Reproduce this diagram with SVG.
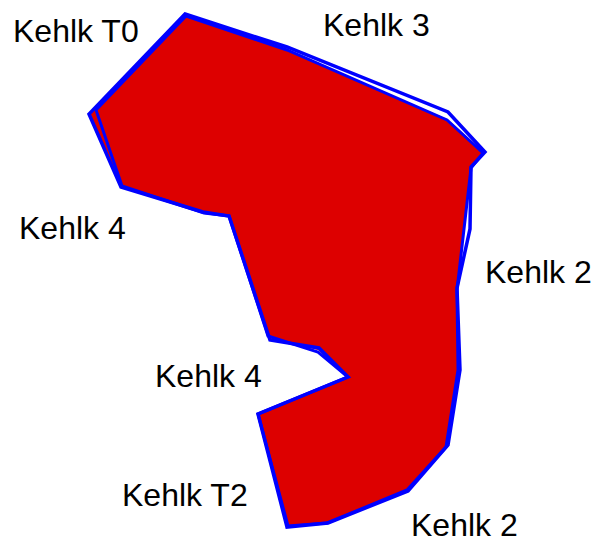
<svg xmlns="http://www.w3.org/2000/svg" width="598" height="544" viewBox="0 0 598 544">
<style>
.lbl{font-family:"Liberation Sans",Arial,sans-serif;font-size:32px;fill:#000}
.fill{fill:#DD0000;stroke:none}
.ol{fill:none;stroke:#0000FF;stroke-linejoin:miter}
</style>
<rect width="598" height="544" fill="#fff"/>
<g id="region">
<polygon class="fill" points="185,15 287,50 447,119 484,152 471,168 457,290 459,370 447,446 408,491 328,523 287,527 258,414 348,377 318,350 269,338 229,216 203,212 121,187 89,115"/>
</g>
<g id="outlines">
<polygon class="ol" stroke-width="3" points="186,16 287,50 447,120 483,153 471,168 457,290 458,370 446,447 407,490 327,523 288,526 258,414 348,377 318,352 268,336 229,216 204,213 122,186 96,110"/>
<polygon class="ol" stroke-width="3.5" points="185,14 287,47 448,112 485,152 471,167 470,229 457,288 460,370 448,445 408,491 328,523 287,527 258,414 348,377 319,348 270,340 229,216 203,212 121,187 89,114"/>
</g>
<g id="labels">
<text class="lbl" x="13" y="42">Kehlk T0</text>
<text class="lbl" x="323" y="36">Kehlk 3</text>
<text class="lbl" x="19" y="239">Kehlk 4</text>
<text class="lbl" x="485" y="283">Kehlk 2</text>
<text class="lbl" x="155" y="387">Kehlk 4</text>
<text class="lbl" x="122" y="506">Kehlk T2</text>
<text class="lbl" x="411" y="536">Kehlk 2</text>
</g>
</svg>
